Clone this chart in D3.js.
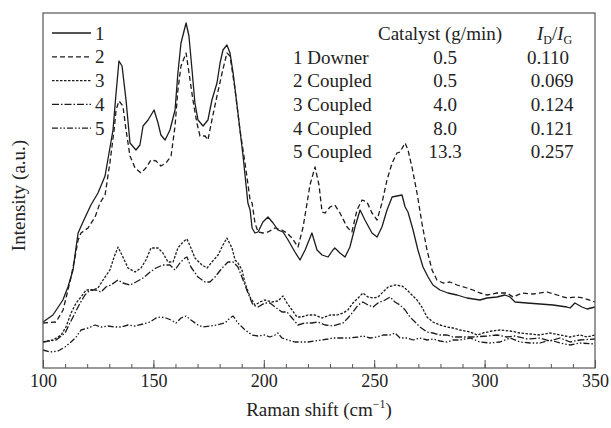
<!DOCTYPE html>
<html>
<head>
<meta charset="utf-8">
<script src="https://cdn.jsdelivr.net/npm/d3@7"></script>
<style>
  html, body { margin: 0; padding: 0; background: #fff; }
  svg { display: block; }
  text { font-family: "Liberation Serif", "Times New Roman", serif; fill: #222; }
</style>
</head>
<body>
<svg id="chart" width="611" height="428"></svg>
<script>
// ---------- data (Raman shift cm^-1, intensity a.u.) ----------
const seriesNames = ["1", "2", "3", "4", "5"];

const series1 = [[100,46],[104.5,53],[109,68],[111.3,81],[113.6,98],[115,121],[115.9,135],[118.1,146],[121.7,163],[124.9,175],[128.1,192],[131.7,238],[133.1,275],[134.4,307],[135.8,302],[137.6,268],[139.4,225],[142.1,218],[143.9,223],[145.3,242],[147.6,248],[150.3,258],[152.1,245],[153.4,233],[155.3,228],[157.5,238],[159.8,258],[161.1,295],[162.5,325],[164.8,345],[166.1,332],[167.5,298],[168.8,265],[170.2,248],[172.5,242],[174.7,248],[176.5,268],[178.8,285],[180.2,305],[181.5,318],[183.3,323],[184.7,315],[186.1,295],[188.3,255],[190.6,212],[192.8,165],[193.8,158],[194.7,140],[196,135],[197.4,136],[199.6,146],[201.9,151],[204.2,145],[206.4,138],[208.7,136],[211,128],[214.1,116],[216.4,108],[218.7,118],[221.8,135],[224.1,118],[226.4,113],[229.1,111],[231.3,118],[232.2,120],[234.5,115],[236.8,111],[239,121],[241.3,141],[243.6,158],[245.8,148],[249,135],[251.3,131],[253.5,141],[255.8,158],[258.1,171],[260.3,172],[262.6,173],[264,161],[265.3,156],[267.6,138],[269.8,118],[272.1,101],[274.4,91],[276.6,83],[279.8,78],[283.4,75],[287.5,73],[292,70],[297.9,68],[301.1,70],[305.6,71],[309.2,73],[311.5,71],[313.8,66],[319.2,65],[325.1,64],[331,63],[337.3,61],[338.7,60],[340.9,65],[344.1,61],[346.4,59],[350,61]];

const series2 = [[100,45],[105.9,46],[109.1,58],[111.3,78],[112.7,91],[114.5,111],[115.9,128],[117.2,135],[120.4,140],[123.6,151],[125.8,165],[128.1,173],[130.3,205],[132.2,238],[133.1,258],[134.4,267],[136.2,262],[137.6,238],[139.4,212],[141.7,200],[144.4,195],[146.6,200],[148.9,208],[151.2,207],[153.4,202],[155.7,205],[158,212],[159.8,242],[161.1,278],[162.5,302],[164.8,315],[166.6,288],[167.9,268],[169.7,245],[171.1,232],[173.4,232],[174.7,228],[176.5,248],[178.8,272],[181.1,295],[183.3,315],[184.7,312],[187,278],[189.2,238],[191.5,205],[193.8,168],[194.7,165],[196,145],[197.4,136],[199.6,135],[201.9,136],[205.1,140],[208.2,138],[210.5,135],[212.8,130],[215.5,121],[217.8,141],[219.6,165],[220.9,183],[223.2,201],[225,183],[226.4,156],[227.7,155],[230,161],[232.2,163],[234.5,155],[237.7,141],[239.9,136],[242.2,158],[244.5,168],[246.7,166],[249,155],[251.3,148],[253.5,165],[255.8,188],[258.1,205],[260.3,215],[261.7,216],[264,225],[265.3,218],[267.1,201],[269.4,175],[271.6,145],[273.9,118],[276.2,98],[278.4,88],[281.2,85],[284.3,86],[287.5,83],[292,80],[294.7,78],[297.9,75],[301.1,73],[305.6,75],[310.1,75],[312.9,71],[316.9,75],[321.9,74],[328.3,76],[332.8,73],[337.3,70],[341.8,71],[344.6,70],[350,66]];

const series3 = [[100,26],[104.5,28],[108.2,33],[110.4,41],[112.7,55],[115,65],[117.2,71],[119.5,78],[122.6,78],[124.9,80],[127.2,88],[130.3,98],[132.2,111],[134,121],[136.2,111],[138.5,100],[141.7,96],[144.4,100],[146.6,108],[148.9,120],[152.1,120],[154.3,115],[156.6,106],[158.9,106],[161.1,120],[163.4,126],[165.2,129],[167,120],[168.8,110],[172,103],[174.3,100],[176.5,106],[179.3,113],[181.5,123],[183.3,130],[185.6,120],[187,108],[188.3,105],[190.1,98],[191.5,85],[193.8,71],[196,63],[198.3,66],[200.5,68],[203.7,66],[206.4,67],[208.7,72],[210.5,65],[212.8,58],[215,51],[217.3,51],[220,53],[223.2,53],[226.4,50],[230,53],[233.2,53],[235.9,55],[238.1,58],[240.4,65],[242.7,70],[244.9,75],[247.2,71],[249.5,70],[251.7,71],[254,76],[256.3,81],[259.4,83],[262.6,82],[264.9,78],[267.1,73],[269.4,68],[271.6,61],[273.9,51],[276.6,46],[279.8,43],[283,41],[285.7,40],[288.9,38],[293.4,36],[296.6,33],[299.3,35],[303.4,37],[307,38],[311.5,37],[316,35],[320.6,34],[325.1,33],[329.6,35],[334.1,33],[338.7,31],[343.2,33],[346.4,31],[350,33]];

const series4 = [[100,26],[105.9,28],[110,35],[112.2,45],[114.5,55],[116.8,65],[119,73],[121.3,78],[124,78],[126.3,76],[128.5,81],[130.8,83],[134,88],[136.2,85],[139.4,83],[142.1,86],[145.3,90],[148.5,96],[151.2,100],[154.3,103],[157.5,103],[159.8,98],[162,105],[164.3,110],[165.2,111],[167,101],[170.2,91],[173.4,86],[175.6,86],[177.9,91],[181.1,100],[183.8,106],[186.1,106],[188.3,101],[190.6,88],[192.8,75],[195.1,63],[197.4,61],[200.5,65],[202.8,65],[205.1,61],[208.2,56],[210.5,56],[212.8,50],[215.5,43],[218.7,45],[221.8,45],[224.5,46],[227.7,43],[231.3,42],[235.9,45],[238.1,50],[240.4,56],[242.7,63],[244.9,66],[247.2,63],[249.5,61],[251.7,65],[254.9,68],[257.2,71],[259.4,66],[261.7,63],[264,58],[266.2,51],[268.5,46],[270.7,41],[273.9,36],[276.6,35],[279.8,33],[283,33],[285.7,31],[288.9,31],[294.7,31],[301.1,32],[305.6,33],[310.1,31],[313.8,32],[319.2,29],[325.1,30],[329.6,27],[334.1,30],[338.7,26],[343.2,28],[350,29]];

const series5 = [[100,18],[103.2,16],[106.8,17],[110,21],[112.7,26],[115,31],[117.2,38],[120.4,40],[123.6,43],[126.3,41],[129.4,42],[132.6,41],[135.3,41],[138.5,43],[141.7,42],[145.3,44],[148.5,46],[151.2,50],[153.4,51],[155.7,50],[158,48],[160.2,45],[162.5,50],[164.8,52],[167,48],[170.2,43],[172.5,41],[175.6,42],[178.8,43],[182.4,45],[184.7,50],[186.1,52],[188.3,45],[191.5,38],[194.7,33],[197.4,32],[200.5,33],[202.8,31],[205.1,33],[206.4,35],[208.2,30],[211,28],[214.1,26],[217.3,26],[220,26],[223.2,27],[226.4,28],[229.1,29],[231.3,30],[234.5,30],[239,30],[242.7,31],[244.9,32],[248.1,30],[251.3,31],[254,33],[257.2,33],[259.4,35],[261.7,30],[264.9,30],[267.6,28],[270.7,30],[273.9,28],[276.6,29],[279.8,27],[283,26],[285.7,28],[288.9,28],[293.4,30],[297.9,26],[302.4,25],[307,26],[311.5,30],[316,26],[320.6,25],[325.1,25],[329.6,28],[334.1,25],[338.7,23],[343.2,25],[350,24]];

const xTicksMajor = [100, 150, 200, 250, 300, 350];
const xTicksMinor = d3.range(100, 351, 10);

const tableSamples = ["1 Downer", "2 Coupled", "3 Coupled", "4 Coupled", "5 Coupled"];
const tableCatalyst = ["0.5", "0.5", "4.0", "8.0", "13.3"];
const tableRatio = ["0.110", "0.069", "0.124", "0.121", "0.257"];

// ---------- styles ----------
const dashes = [null, "5,3", "2.5,1.5", "7,2,1.5,2", "6,2,1.5,2,1.5,2"];
const allSeries = [series1, series2, series3, series4, series5];

// ---------- layout ----------
const svg = d3.select("#chart");
const L = 43, R = 595, T = 13, B = 368;

const x = d3.scaleLinear().domain([100, 350]).range([L, R]);
const y = d3.scaleLinear().domain([0, 355]).range([B, T]);

// curves
const line = d3.line().x(d => x(d[0])).y(d => y(d[1]));
const g = svg.append("g");
allSeries.forEach((s, i) => {
  g.append("path")
    .datum(s)
    .attr("d", line)
    .attr("fill", "none")
    .attr("stroke", "#1c1c1c")
    .attr("stroke-width", 1.3)
    .attr("stroke-linejoin", "round")
    .attr("stroke-dasharray", dashes[i]);
});

// frame
svg.append("rect")
  .attr("x", L).attr("y", T)
  .attr("width", R - L).attr("height", B - T)
  .attr("fill", "none")
  .attr("stroke", "#555").attr("stroke-width", 1.2);

// x axis (ticks inward)
const axMinor = d3.axisBottom(x).tickValues(xTicksMinor).tickSize(-4).tickFormat("");
const axMajor = d3.axisBottom(x).tickValues(xTicksMajor).tickSize(-8).tickPadding(6).tickFormat(d3.format("d"));
const gMinor = svg.append("g").attr("transform", `translate(0,${B})`).call(axMinor);
const gMajor = svg.append("g").attr("transform", `translate(0,${B})`).call(axMajor);
[gMinor, gMajor].forEach(ga => {
  ga.select(".domain").remove();
  ga.selectAll("line").attr("stroke", "#555").attr("stroke-width", 1);
});
gMajor.selectAll("text")
  .attr("font-size", 18)
  .attr("fill", "#222")
  .style("font-family", "'Liberation Serif', serif");

// axis titles
const xt = svg.append("text")
  .attr("x", (L + R) / 2).attr("y", 416)
  .attr("text-anchor", "middle")
  .attr("font-size", 19);
xt.append("tspan").text("Raman shift (cm");
xt.append("tspan").attr("font-size", 12).attr("dy", -8).text("−1");
xt.append("tspan").attr("dy", 8).text(")");

svg.append("text")
  .attr("transform", `translate(25,${(T + B) / 2 + 5}) rotate(-90)`)
  .attr("text-anchor", "middle")
  .attr("font-size", 19)
  .text("Intensity (a.u.)");

// legend
const leg = svg.append("g");
seriesNames.forEach((n, i) => {
  const yy = 33 + i * 23.8;
  leg.append("line")
    .attr("x1", 52).attr("x2", 91).attr("y1", yy).attr("y2", yy)
    .attr("stroke", "#1c1c1c").attr("stroke-width", 1.3)
    .attr("stroke-dasharray", dashes[i]);
  leg.append("text")
    .attr("x", 95).attr("y", yy + 6.5)
    .attr("font-size", 19)
    .text(n);
});

// table
const tb = svg.append("g");
tb.append("text").attr("x", 378).attr("y", 39.5).attr("font-size", 19).text("Catalyst (g/min)");
const hdr = tb.append("text").attr("x", 537).attr("y", 39.5).attr("font-size", 19);
hdr.append("tspan").attr("font-style", "italic").text("I");
hdr.append("tspan").attr("font-size", 12).attr("dy", 4).text("D");
hdr.append("tspan").attr("dy", -4).text("/");
hdr.append("tspan").attr("font-style", "italic").text("I");
hdr.append("tspan").attr("font-size", 12).attr("dy", 4).text("G");

tableSamples.forEach((s, i) => {
  const yy = 63.5 + i * 23.7;
  tb.append("text").attr("x", 293).attr("y", yy).attr("font-size", 19).text(s);
  tb.append("text").attr("x", 445).attr("y", yy).attr("font-size", 19)
    .attr("text-anchor", "middle").text(tableCatalyst[i]);
  tb.append("text").attr("x", i === 0 ? 548 : 552).attr("y", yy).attr("font-size", 19)
    .attr("text-anchor", "middle").text(tableRatio[i]);
});
</script>
</body>
</html>
